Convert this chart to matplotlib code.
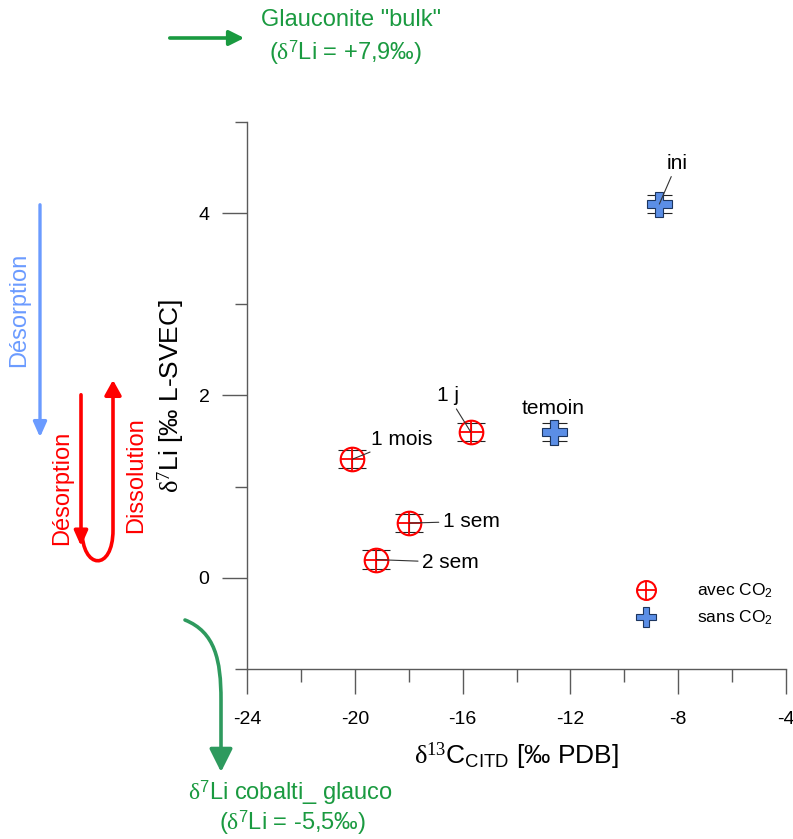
import matplotlib
matplotlib.use("Agg")
import matplotlib.pyplot as plt
import matplotlib.transforms as mtransforms
from matplotlib.patches import FancyArrowPatch
from matplotlib.path import Path
from matplotlib.ticker import MultipleLocator

plt.rcParams['font.family'] = ['Liberation Sans', 'DejaVu Sans']
plt.rcParams['mathtext.fontset'] = 'custom'
plt.rcParams['mathtext.rm'] = 'Liberation Serif'
plt.rcParams['mathtext.sf'] = 'Liberation Sans'
plt.rcParams['mathtext.it'] = 'Liberation Serif:italic'
plt.rcParams['axes.unicode_minus'] = False

# Données
avec_labels = ['1 j', '1 mois', '1 sem', '2 sem']
avec_x = [-15.7, -20.1, -18.0, -19.2]
avec_y = [1.6, 1.3, 0.6, 0.2]
avec_yerr = [0.1, 0.1, 0.1, 0.1]

sans_labels = ['temoin', 'ini']
sans_x = [-12.6, -8.7]
sans_y = [1.6, 4.1]
sans_xerr = [0.15, 0.0]
sans_yerr = [0.1, 0.1]

# position des étiquettes (coordonnées données)
avec_txt = [(-16.54, 2.0, 'center'), (-19.4, 1.52, 'left'), (-16.73, 0.62, 'left'), (-17.5, 0.17, 'left')]
sans_txt = [(-12.65, 1.86, 'center', False), (-8.04, 4.55, 'center', True)]

red = '#ff0000'
blue = '#5b8ee6'
axcol = '#5a5a5a'

fig = plt.figure(figsize=(7.93, 8.39), dpi=100)

# calque pour les flèches et textes hors du graphique (en pixels)
ov = fig.add_axes([0, 0, 1, 1])
ov.set_xlim(0, 793)
ov.set_ylim(839, 0)
ov.axis('off')

ax = fig.add_axes([247/793, (839-669)/839, 539/793, 547/839])
ax.set_xlim(-24, -4)
ax.set_ylim(-1, 5)
ax.patch.set_alpha(0)
for s in ['top', 'right']:
    ax.spines[s].set_visible(False)
for s in ['left', 'bottom']:
    ax.spines[s].set_color(axcol)
    ax.spines[s].set_linewidth(1)
ax.xaxis.set_major_locator(MultipleLocator(4))
ax.xaxis.set_minor_locator(MultipleLocator(2))
ax.yaxis.set_major_locator(MultipleLocator(2))
ax.yaxis.set_minor_locator(MultipleLocator(1))
ax.tick_params(which='major', length=18, width=1, color=axcol, labelsize=14, pad=9)
ax.tick_params(which='minor', length=9, width=1, color=axcol)
ax.tick_params(axis='x', which='major', pad=12)

ax.set_xlabel(r'$\mathrm{\delta^{13}}\mathsf{C_{CITD}}$ [‰ PDB]', fontsize=19)
ax.set_ylabel(r'$\mathrm{\delta^{7}}$Li [‰ L-SVEC]', fontsize=19)
ax.xaxis.set_label_coords(0.5, -0.13)
ax.yaxis.set_label_coords(-0.111, 0.5)

# barres d'erreur
ax.errorbar(avec_x, avec_y, yerr=avec_yerr, fmt='none', ecolor='#222222',
            elinewidth=0.8, capsize=10, capthick=0.8, zorder=2)
ax.errorbar(sans_x, sans_y, xerr=sans_xerr, yerr=sans_yerr, fmt='none', ecolor='#222222',
            elinewidth=0.8, capsize=9, capthick=0.8, zorder=2)

# points avec CO2 (cercle barré)
c1, = ax.plot(avec_x, avec_y, 'o', ms=17, mfc='none', mec=red, mew=1.5, ls='none', zorder=3)
c2, = ax.plot(avec_x, avec_y, '+', ms=17, color=red, mew=1.3, ls='none', zorder=3)
# points sans CO2
p1, = ax.plot(sans_x, sans_y, 'P', ms=18, mfc=blue, mec='#1c355e', mew=0.8, ls='none', zorder=3)

for lab, x, y, (tx, ty, ha) in zip(avec_labels, avec_x, avec_y, avec_txt):
    ax.annotate(lab, xy=(x, y), xytext=(tx, ty), ha=ha, va='center', fontsize=15,
                arrowprops=dict(arrowstyle='-', color='#333333', lw=0.8, shrinkA=1, shrinkB=0))
for lab, x, y, (tx, ty, ha, arr) in zip(sans_labels, sans_x, sans_y, sans_txt):
    if arr:
        ax.annotate(lab, xy=(x, y), xytext=(tx, ty), ha=ha, va='center', fontsize=15,
                    arrowprops=dict(arrowstyle='-', color='#333333', lw=0.8, shrinkA=1, shrinkB=0))
    else:
        ax.text(tx, ty, lab, ha=ha, va='center', fontsize=15)

leg = ax.legend([(c1, c2), p1], ['avec CO$_\\mathsf{2}$', 'sans CO$_\\mathsf{2}$'],
                loc='center left', bbox_to_anchor=(0.69, 0.118), frameon=False,
                fontsize=12.5, markerscale=0.8, handlelength=1.3, handletextpad=2.3,
                labelspacing=0.5)

# flèches et textes hors graphique
green = '#1a9a40'
ov.annotate('', xy=(247, 38), xytext=(167, 38),
            arrowprops=dict(arrowstyle='-|>,head_length=0.9,head_width=0.45', color=green, lw=2.6))
ov.text(351, 20, 'Glauconite "bulk"', color=green, fontsize=17, ha='center', va='center')
ov.text(346, 53, r'($\mathrm{\delta}^\mathsf{7}$Li = +7,9‰)', color=green, fontsize=17, ha='center', va='center')

lblue = '#6b9bff'
ov.annotate('', xy=(40, 440), xytext=(40, 202),
            arrowprops=dict(arrowstyle='-|>,head_length=0.9,head_width=0.4', color=lblue, lw=2.4))
ov.text(19, 310, 'Désorption', color=lblue, fontsize=17, rotation=90, ha='center', va='center')

ov.annotate('', xy=(81, 549), xytext=(81, 392),
            arrowprops=dict(arrowstyle='-|>,head_length=0.9,head_width=0.4', color=red, lw=2.6))
upath = Path([(82, 530), (82, 570), (113, 572), (113, 530), (113, 380)],
             [Path.MOVETO, Path.CURVE4, Path.CURVE4, Path.CURVE4, Path.LINETO])
ov.add_patch(FancyArrowPatch(path=upath, arrowstyle='-|>,head_length=9,head_width=5',
                             color=red, lw=2.6))
ov.text(62, 488, 'Désorption', color=red, fontsize=17, rotation=90, ha='center', va='center')
ov.text(136, 475, 'Dissolution', color=red, fontsize=17, rotation=90, ha='center', va='center')

dgreen = '#2e9a5e'
gpath = Path([(185, 620), (215, 632), (221, 660), (221, 700), (221, 772)],
             [Path.MOVETO, Path.CURVE4, Path.CURVE4, Path.CURVE4, Path.LINETO])
ov.add_patch(FancyArrowPatch(path=gpath, arrowstyle='-|>,head_length=14,head_width=7',
                             color=dgreen, lw=2.6))
ov.text(290, 793, r'$\mathrm{\delta}^\mathsf{7}$Li cobalti_ glauco', color=green, fontsize=17,
        ha='center', va='center')
ov.text(293, 823, r'($\mathrm{\delta}^\mathsf{7}$Li = -5,5‰)', color=green, fontsize=17,
        ha='center', va='center')

# dernière étiquette de l'axe x : alignée à droite pour rester dans l'image
fig.canvas.draw()
last = ax.get_xticklabels()[-1]
last.set_horizontalalignment('right')
last.set_transform(last.get_transform()
                   + mtransforms.ScaledTranslation(3/100, 0, fig.dpi_scale_trans))

fig.savefig('out.png', dpi=100)
